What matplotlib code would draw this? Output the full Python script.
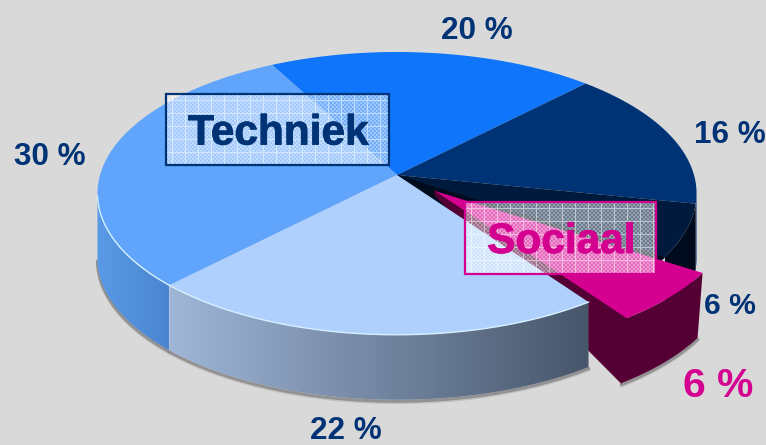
import numpy as np
import matplotlib
matplotlib.use('Agg')
from matplotlib import pyplot as plt
from matplotlib import patheffects as pe
from matplotlib.colors import to_rgb
from matplotlib.patches import Polygon, Rectangle

plt.rcParams['font.family'] = ['Liberation Sans', 'DejaVu Sans']

# Slices clockwise, starting at the 20 % slice on top
slice_values = [20, 16, 6, 6, 22, 30]
slice_labels = ['20 %', '16 %', '6 %', '6 %', '22 %', '30 %']
top_colors = ['#0f75fa', '#003375', '#001a3e', '#d4008f', '#afd0fd', '#60a5fb']
wall_left = ['#0f75fa', '#003375', '#000b1e', '#550035', '#9fb6d8', '#5a9ae6']
wall_right = ['#0f75fa', '#003375', '#000b1e', '#550035', '#47566b', '#4a85d0']
label_colors = ['#003375', '#003375', '#003375', '#d4008f', '#003375', '#003375']
label_sizes = [22.7, 22.7, 21.7, 29.3, 22.7, 22.7]
label_x = [477, 730, 730, 718, 346, 50]
label_y = [31, 135, 306, 386, 431, 157]

box_names = ['Techniek', 'Sociaal']
box_colors = ['#003375', '#d4008f']

# Projection of the pie disc
cx, cy = 397, 175
rx, ry = 297, 139
persp = 0.13
wall_h = 65
start_angle = 118
explode = (38, 16)


def project(t, shift=(0, 0)):
    u = np.cos(np.radians(t))
    v = np.sin(np.radians(t))
    d = 1 + persp * v
    return cx + rx * u / d + shift[0], cy - ry * v / d + shift[1]


def gradient_fill(ax, xs, ys, c1, c2, zorder):
    # horizontal gradient clipped to a polygon
    ramp = np.linspace(0, 1, 256)[None, :, None]
    img = np.array(to_rgb(c1))[None, None, :] * (1 - ramp) + np.array(to_rgb(c2))[None, None, :] * ramp
    im = ax.imshow(img, extent=(min(xs), max(xs), max(ys), min(ys)), aspect='auto', zorder=zorder)
    im.set_clip_path(Polygon(np.column_stack([xs, ys]), closed=True, transform=ax.transData))


fig = plt.figure(figsize=(7.66, 4.45), dpi=100, facecolor='#d9d9d9')
ax = fig.add_axes([0, 0, 1, 1])
ax.axis('off')

# Angles come from the values
sweeps = np.array(slice_values) / sum(slice_values) * 360
ends = start_angle - np.cumsum(sweeps)
starts = ends + sweeps

# Only the part of the rim between the far left and far right points has a visible wall
circle = np.linspace(0, 360, 1441)
circle_x = project(circle)[0]
t_left = circle[np.argmin(circle_x)]
t_right = circle[np.argmax(circle_x)]
front_span = (t_right - t_left) % 360

# Hole left behind by the pulled out slice
t = np.linspace(starts[3], ends[3], 30)
hx, hy = project(t)
ax.fill(np.r_[cx, hx], np.r_[cy, hy], color='#000b1e', zorder=1)

# z order per slice, pink goes under the light blue one
zorders = {0: 2, 1: 2, 2: 2, 3: 4, 4: 6, 5: 5}
for i in range(len(slice_values)):
    shift = explode if i == 3 else (0, 0)
    t = np.linspace(starts[i], ends[i], 200)
    x, y = project(t, shift=shift)
    ax_, ay_ = cx + shift[0], cy + shift[1]
    z = zorders[i]
    if i == 3:
        # cut face facing the light blue slice
        ax.fill([ax_, x[-1], x[-1] - 5, ax_], [ay_, y[-1], y[-1] + wall_h, ay_ + 4], color=wall_left[i], zorder=z)
    # outer wall
    vis = (t - t_left) % 360 <= front_span
    if vis.sum() > 1:
        vx, vy = x[vis], y[vis]
        bx_ = vx - 5 if i == 3 else vx
        by_ = vy + wall_h
        if i in (3, 4, 5):
            # soft shadow under the wall
            ax.plot(bx_, by_ + 1.5, color='#8c8c8c', lw=2.2, zorder=0.5, alpha=0.9)
            ax.plot(bx_, by_ + 3, color='#bdbdbd', lw=2, zorder=0.4, alpha=0.8)
        gradient_fill(ax, np.r_[vx, bx_[::-1]], np.r_[vy, by_[::-1]], wall_left[i], wall_right[i], z + 0.1)
    # top face
    ax.fill(np.r_[ax_, x], np.r_[ay_, y], color=top_colors[i], lw=0, zorder=z + 0.2)
    if i in (4, 5):
        front = y > cy + 20
        ax.plot(x[front], y[front], color='#d5f0ff', lw=1, zorder=z + 0.3)

# Slice labels
for i, lab in enumerate(slice_labels):
    ax.text(label_x[i], label_y[i], lab, color=label_colors[i], fontsize=label_sizes[i],
            fontweight='bold', ha='center', va='center', zorder=20)

# Meshed label boxes
boxes = [(166, 94, 223, 71), (465, 202, 191, 72)]
for name, col, (bx, by, bw, bh) in zip(box_names, box_colors, boxes):
    yy, xx = np.mgrid[0:bh, 0:bw]
    alpha = 0.42 + 0.18 * (((xx // 2) + (yy // 2)) % 2)
    alpha[(xx % 13 == 6) | (yy % 13 == 6)] = 0.75
    rgba = np.ones((bh, bw, 4))
    rgba[..., 3] = alpha
    ax.imshow(rgba, extent=(bx, bx + bw, by + bh, by), aspect='auto', interpolation='bilinear', zorder=10)
    ax.add_patch(Rectangle((bx, by), bw, bh, fill=False, edgecolor=col, lw=1.6, zorder=11))
    ax.text(bx + bw / 2 + 1, by + bh / 2 + 4, name, color=col, fontsize=30.5, fontweight='bold',
            ha='center', va='center', zorder=12,
            path_effects=[pe.withStroke(linewidth=0.6, foreground=col)])

ax.set_xlim(0, 766)
ax.set_ylim(445, 0)
fig.savefig('out.png', dpi=100, facecolor=fig.get_facecolor())
